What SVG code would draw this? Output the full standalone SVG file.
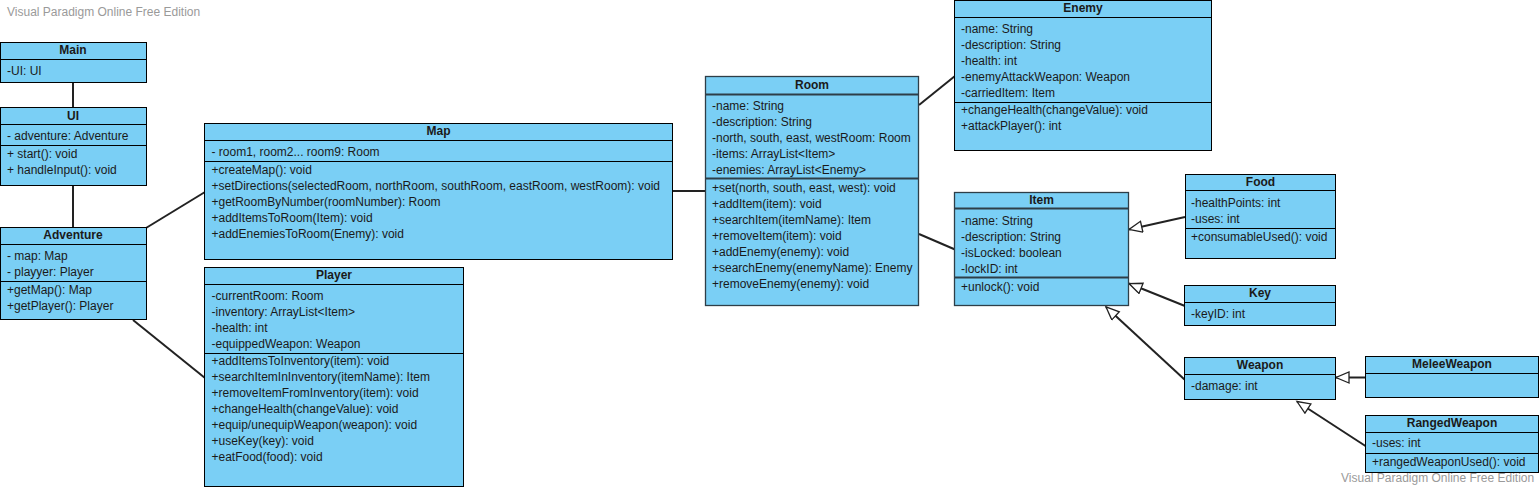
<svg xmlns="http://www.w3.org/2000/svg" width="1539" height="487" viewBox="0 0 1539 487">
<defs>
<style>
.box{fill:#7ACFF5;stroke:#000;stroke-width:1}
.box2{fill:#7ACFF5;stroke:#2E3E48;stroke-width:1.3}
.sep{stroke:#000;stroke-width:1}
.sep2{stroke:#2E3E48;stroke-width:2}
.t{font-family:"Liberation Sans",Arial,sans-serif;font-size:12px;fill:#1a1a1a}
.h{font-family:"Liberation Sans",Arial,sans-serif;font-size:12px;font-weight:bold;fill:#1a1a1a;text-anchor:middle}
.wm{font-family:"Liberation Sans",Arial,sans-serif;font-size:12px;fill:#9a9a9a}
.c{stroke:#222;stroke-width:2;fill:none}
</style>
<marker id="gen" markerUnits="userSpaceOnUse" markerWidth="16" markerHeight="14" refX="14" refY="6" orient="auto">
<path d="M1,0.5 L14,6 L1,11.5 Z" fill="#fff" stroke="#222" stroke-width="1.3"/>
</marker>
</defs>
<rect width="1539" height="487" fill="#fff"/>
<text class="wm" x="7" y="16">Visual Paradigm Online Free Edition</text>

<g id="connectors">
<line class="c" x1="73" y1="83" x2="73" y2="107"/>
<line class="c" x1="73" y1="186" x2="73" y2="228"/>
<line class="c" x1="146" y1="228" x2="205" y2="192"/>
<line class="c" x1="133" y1="320" x2="205" y2="378"/>
<line class="c" x1="672" y1="191" x2="706" y2="191"/>
<line class="c" x1="919" y1="105" x2="955" y2="76"/>
<line class="c" x1="919" y1="234" x2="955" y2="249.5"/>
<line class="c" x1="1185" y1="217" x2="1129" y2="229.5" marker-end="url(#gen)"/>
<line class="c" x1="1185" y1="306" x2="1129" y2="283.5" marker-end="url(#gen)"/>
<line class="c" x1="1184.5" y1="379.5" x2="1106" y2="307" marker-end="url(#gen)"/>
<line class="c" x1="1365.5" y1="377.5" x2="1336" y2="377.5" marker-end="url(#gen)"/>
<line class="c" x1="1365.5" y1="446" x2="1297" y2="401.5" marker-end="url(#gen)"/>
</g>

<g id="Main">
<rect class="box" x="0.5" y="42.5" width="146" height="40"/>
<line class="sep" x1="0.5" y1="59.5" x2="146.5" y2="59.5"/>
<text class="h" x="73" y="53.5">Main</text>
<text class="t" x="7" y="75">-UI: UI</text>
</g>

<g id="UI">
<rect class="box" x="0.5" y="107.5" width="146" height="78"/>
<line class="sep" x1="0.5" y1="124.5" x2="146.5" y2="124.5"/>
<line class="sep" x1="0.5" y1="145.5" x2="146.5" y2="145.5"/>
<text class="h" x="73" y="119.5">UI</text>
<text class="t" x="7" y="140">- adventure: Adventure</text>
<text class="t" x="7" y="158">+ start(): void</text>
<text class="t" x="7" y="174">+ handleInput(): void</text>
</g>

<g id="Adventure">
<rect class="box" x="0.5" y="227.5" width="146" height="92"/>
<line class="sep" x1="0.5" y1="244.5" x2="146.5" y2="244.5"/>
<line class="sep" x1="0.5" y1="281.5" x2="146.5" y2="281.5"/>
<text class="h" x="73" y="239">Adventure</text>
<text class="t" x="7" y="260">- map: Map</text>
<text class="t" x="7" y="276">- playyer: Player</text>
<text class="t" x="7" y="294">+getMap(): Map</text>
<text class="t" x="7" y="310">+getPlayer(): Player</text>
</g>

<g id="Map">
<rect class="box" x="204.5" y="123.5" width="468" height="136"/>
<line class="sep" x1="204.5" y1="140.5" x2="672.5" y2="140.5"/>
<line class="sep" x1="204.5" y1="161.5" x2="672.5" y2="161.5"/>
<text class="h" x="438.5" y="135">Map</text>
<text class="t" x="211.5" y="156">- room1, room2... room9: Room</text>
<text class="t" x="211.5" y="174">+createMap(): void</text>
<text class="t" x="211.5" y="190">+setDirections(selectedRoom, northRoom, southRoom, eastRoom, westRoom): void</text>
<text class="t" x="211.5" y="206">+getRoomByNumber(roomNumber): Room</text>
<text class="t" x="211.5" y="222">+addItemsToRoom(Item): void</text>
<text class="t" x="211.5" y="238">+addEnemiesToRoom(Enemy): void</text>
</g>

<g id="Player">
<rect class="box" x="204.5" y="267.5" width="259" height="219"/>
<line class="sep" x1="204.5" y1="284.5" x2="463.5" y2="284.5"/>
<line class="sep" x1="204.5" y1="353.5" x2="463.5" y2="353.5"/>
<text class="h" x="334" y="279">Player</text>
<text class="t" x="211.5" y="300">-currentRoom: Room</text>
<text class="t" x="211.5" y="316">-inventory: ArrayList&lt;Item&gt;</text>
<text class="t" x="211.5" y="332">-health: int</text>
<text class="t" x="211.5" y="348">-equippedWeapon: Weapon</text>
<text class="t" x="211.5" y="365">+addItemsToInventory(item): void</text>
<text class="t" x="211.5" y="381">+searchItemInInventory(itemName): Item</text>
<text class="t" x="211.5" y="397">+removeItemFromInventory(item): void</text>
<text class="t" x="211.5" y="413">+changeHealth(changeValue): void</text>
<text class="t" x="211.5" y="429">+equip/unequipWeapon(weapon): void</text>
<text class="t" x="211.5" y="445">+useKey(key): void</text>
<text class="t" x="211.5" y="461">+eatFood(food): void</text>
</g>

<g id="Room">
<rect class="box2" x="705.5" y="76.5" width="213" height="229"/>
<line class="sep2" x1="705.5" y1="94.5" x2="918.5" y2="94.5"/>
<line class="sep2" x1="705.5" y1="178.5" x2="918.5" y2="178.5"/>
<text class="h" x="812" y="88.5">Room</text>
<text class="t" x="712" y="110">-name: String</text>
<text class="t" x="712" y="126">-description: String</text>
<text class="t" x="712" y="142">-north, south, east, westRoom: Room</text>
<text class="t" x="712" y="158">-items: ArrayList&lt;Item&gt;</text>
<text class="t" x="712" y="174">-enemies: ArrayList&lt;Enemy&gt;</text>
<text class="t" x="712" y="191.5">+set(north, south, east, west): void</text>
<text class="t" x="712" y="207.5">+addItem(item): void</text>
<text class="t" x="712" y="223.5">+searchItem(itemName): Item</text>
<text class="t" x="712" y="239.5">+removeItem(item): void</text>
<text class="t" x="712" y="255.5">+addEnemy(enemy): void</text>
<text class="t" x="712" y="271.5">+searchEnemy(enemyName): Enemy</text>
<text class="t" x="712" y="287.5">+removeEnemy(enemy): void</text>
</g>

<g id="Enemy">
<rect class="box" x="954.5" y="0.5" width="257" height="150"/>
<line class="sep" x1="954.5" y1="17.5" x2="1211.5" y2="17.5"/>
<line class="sep" x1="954.5" y1="102.5" x2="1211.5" y2="102.5"/>
<text class="h" x="1083" y="11.5">Enemy</text>
<text class="t" x="961" y="33">-name: String</text>
<text class="t" x="961" y="49">-description: String</text>
<text class="t" x="961" y="65">-health: int</text>
<text class="t" x="961" y="81">-enemyAttackWeapon: Weapon</text>
<text class="t" x="961" y="97">-carriedItem: Item</text>
<text class="t" x="961" y="114">+changeHealth(changeValue): void</text>
<text class="t" x="961" y="130">+attackPlayer(): int</text>
</g>

<g id="Item">
<rect class="box2" x="954.5" y="192.5" width="174" height="113"/>
<line class="sep2" x1="954.5" y1="208.5" x2="1128.5" y2="208.5"/>
<line class="sep2" x1="954.5" y1="277.5" x2="1128.5" y2="277.5"/>
<text class="h" x="1041.5" y="204">Item</text>
<text class="t" x="961" y="225">-name: String</text>
<text class="t" x="961" y="241">-description: String</text>
<text class="t" x="961" y="257">-isLocked: boolean</text>
<text class="t" x="961" y="273">-lockID: int</text>
<text class="t" x="961" y="291">+unlock(): void</text>
</g>

<g id="Food">
<rect class="box" x="1185.5" y="174.5" width="150" height="84"/>
<line class="sep" x1="1185.5" y1="190.5" x2="1335.5" y2="190.5"/>
<line class="sep" x1="1185.5" y1="228.5" x2="1335.5" y2="228.5"/>
<text class="h" x="1260.5" y="186">Food</text>
<text class="t" x="1191" y="207">-healthPoints: int</text>
<text class="t" x="1191" y="223">-uses: int</text>
<text class="t" x="1191" y="241">+consumableUsed(): void</text>
</g>

<g id="Key">
<rect class="box" x="1184.5" y="285.5" width="151" height="40"/>
<line class="sep" x1="1184.5" y1="302.5" x2="1335.5" y2="302.5"/>
<text class="h" x="1260" y="297">Key</text>
<text class="t" x="1191" y="317.5">-keyID: int</text>
</g>

<g id="Weapon">
<rect class="box" x="1184.5" y="357.5" width="151" height="42"/>
<line class="sep" x1="1184.5" y1="374.5" x2="1335.5" y2="374.5"/>
<text class="h" x="1260" y="368.5">Weapon</text>
<text class="t" x="1191" y="390">-damage: int</text>
</g>

<g id="MeleeWeapon">
<rect class="box" x="1365.5" y="356.5" width="173" height="41"/>
<line class="sep" x1="1365.5" y1="373.5" x2="1538.5" y2="373.5"/>
<text class="h" x="1452" y="367.5">MeleeWeapon</text>
</g>

<g id="RangedWeapon">
<rect class="box" x="1365.5" y="415.5" width="173" height="57"/>
<line class="sep" x1="1365.5" y1="432.5" x2="1538.5" y2="432.5"/>
<line class="sep" x1="1365.5" y1="453.5" x2="1538.5" y2="453.5"/>
<text class="h" x="1452" y="427">RangedWeapon</text>
<text class="t" x="1372" y="447">-uses: int</text>
<text class="t" x="1372" y="466">+rangedWeaponUsed(): void</text>
</g>

<text class="wm" x="1341" y="481.5">Visual Paradigm Online Free Edition</text>
</svg>
